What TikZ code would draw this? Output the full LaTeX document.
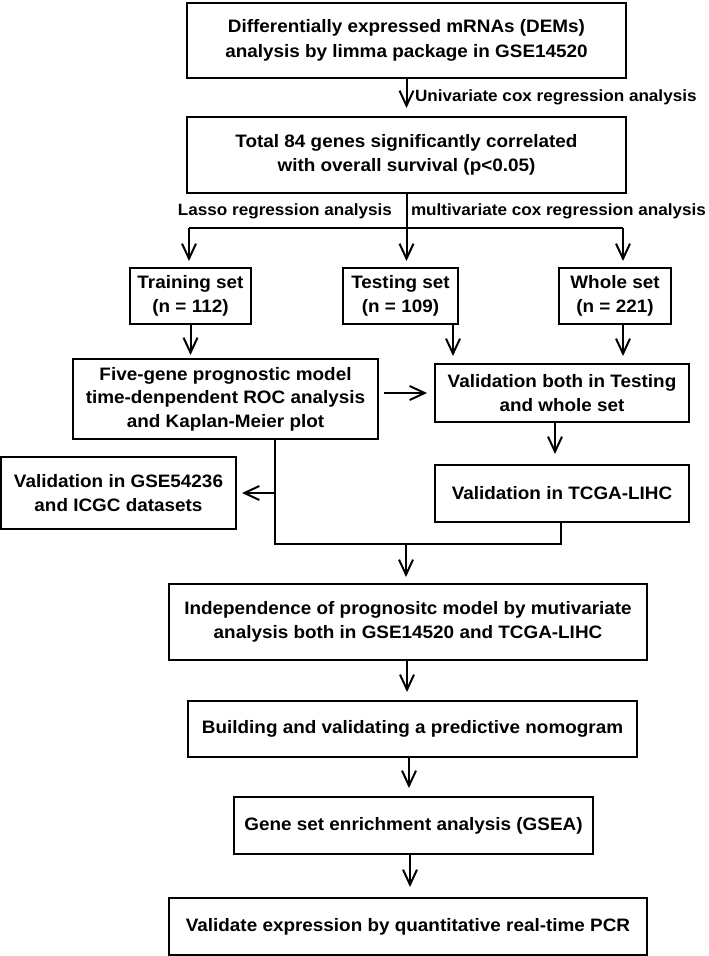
\documentclass[tikz,border=0pt]{standalone}
\usepackage{fontspec}
\setmainfont{Liberation Sans}[FakeStretch=1.05]
\usetikzlibrary{arrows.meta}
\begin{document}
\begin{tikzpicture}[x=1pt,y=-1pt,line width=2pt,
  box/.style={draw,line width=2pt,inner sep=0pt,align=center,font=\fontsize{18}{24.5}\selectfont\bfseries},
  lbl/.style={inner sep=0pt,font=\fontsize{16.3}{22}\selectfont\bfseries},
  arr/.style={-{Straight Barb[length=15pt,width=14pt,line width=2pt]}}]
\useasboundingbox (0,0) rectangle (709,956);
\node[box,minimum width=439pt,minimum height=75pt] (b1) at (406.5,40.5) {Differentially expressed mRNAs (DEMs)\\analysis by limma package in GSE14520};
\node[box,minimum width=439pt,minimum height=76pt] (b2) at (406.5,155) {Total 84 genes significantly correlated\\with overall survival (p<0.05)};
\node[box,minimum width=121pt,minimum height=56pt] (train) at (190.5,296) {Training set\\(n = 112)};
\node[box,minimum width=115pt,minimum height=56pt] (test) at (400.5,296) {Testing set\\(n = 109)};
\node[box,minimum width=112pt,minimum height=56pt] (whole) at (615,296) {Whole set\\(n = 221)};
\node[box,minimum width=305pt,minimum height=80pt,font=\fontsize{18}{23.5}\selectfont\bfseries] (five) at (225.5,399) {Five-gene prognostic model\\time-denpendent ROC analysis\\and Kaplan-Meier plot};
\node[box,minimum width=254pt,minimum height=58pt] (valboth) at (562,393) {Validation both in Testing\\and whole set};
\node[box,minimum width=254pt,minimum height=57pt] (tcga) at (562,493.5) {Validation in TCGA-LIHC};
\node[box,minimum width=235pt,minimum height=72pt] (gse) at (118.5,493) {Validation in GSE54236\\and ICGC datasets};
\node[box,minimum width=478pt,minimum height=76pt] (indep) at (408,622) {Independence of prognositc model by mutivariate\\analysis both in GSE14520 and TCGA-LIHC};
\node[box,minimum width=449pt,minimum height=56pt] (build) at (412.5,729) {Building and validating a predictive nomogram};
\node[box,minimum width=359pt,minimum height=57pt] (gsea) at (413.5,825.5) {Gene set enrichment analysis (GSEA)};
\node[box,minimum width=478pt,minimum height=57pt] (pcr) at (408,926.5) {Validate expression by quantitative real-time PCR};
% labels
\node[lbl,anchor=west] (l1) at (414,97) {Univariate cox regression analysis};
\node[lbl,anchor=east] (l2) at (393,211) {Lasso regression analysis};
\node[lbl,anchor=west] (l3) at (410,211) {multivariate cox regression analysis};
% connectors
\draw[arr,shorten >=8pt] (b1.south) -- (b2.north);
\coordinate (hl) at (189,228);
\coordinate (hm) at (406.5,228);
\coordinate (hr) at (623,228);
\draw (b2.south) -- (hm);
\draw (hl) -- (hr);
\draw[arr,shorten >=6pt] (hl) -- (hl |- train.north);
\draw[arr,shorten >=6pt] (hm) -- (hm |- test.north);
\draw[arr,shorten >=6pt] (hr) -- (hr |- whole.north);
\draw[arr,shorten >=3pt] (train.south) -- (train.south |- five.north);
\draw[arr,shorten >=7pt] (453,0 |- test.south) -- (453,0 |- valboth.north);
\draw[arr,shorten >=7pt] (623,0 |- whole.south) -- (623,0 |- valboth.north);
\draw[arr,shorten <=5pt,shorten >=7pt] (five.east |- 0,393) -- (valboth.west |- 0,393);
\draw[arr,shorten >=10pt] (555,0 |- valboth.south) -- (555,0 |- tcga.north);
\coordinate (jl) at (275,544);
\coordinate (jr) at (561,544);
\coordinate (jm) at (406,544);
\draw (275,0 |- five.south) -- (jl) -- (jr) -- (561,0 |- tcga.south);
\draw[arr,shorten >=5pt] (275,493) -- (gse.east |- 0,493);
\draw[arr,shorten >=6pt] (jm) -- (jm |- indep.north);
\draw[arr,shorten >=8pt] (407,0 |- indep.south) -- (407,0 |- build.north);
\draw[arr,shorten >=8pt] (409,0 |- build.south) -- (409,0 |- gsea.north);
\draw[arr,shorten >=10pt] (410,0 |- gsea.south) -- (410,0 |- pcr.north);
\end{tikzpicture}
\end{document}
